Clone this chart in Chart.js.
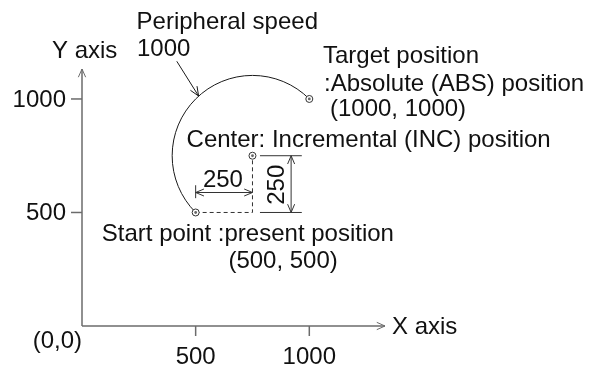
<!DOCTYPE html>
<html>
<head>
<meta charset="utf-8">
<script src="https://cdn.jsdelivr.net/npm/chart.js@4"></script>
<style>
  html, body { margin: 0; padding: 0; background: #fff; }
  canvas { display: block; }
</style>
</head>
<body>
<canvas id="chart" width="597" height="365"></canvas>
<script>
// Données du schéma (interpolation circulaire)
const axisTicks = [500, 1000];
const tickLabels = ['500', '1000'];
const startPoint = [500, 500];
const centerPoint = [750, 750];
const targetPoint = [1000, 1000];
const dashX = [500, 750, 750];
const dashY = [500, 500, 750];
const incrementX = 250;
const incrementY = 250;
const peripheralSpeed = 1000;

const FONT = '"Liberation Sans", Arial, sans-serif';
const markers = [startPoint, centerPoint, targetPoint].map(([x, y]) => ({ x, y }));

// Petite flèche ouverte
function arrowHead(ctx, x, y, angle, len = 9, spread = 0.42) {
  ctx.beginPath();
  ctx.moveTo(x - len * Math.cos(angle - spread), y - len * Math.sin(angle - spread));
  ctx.lineTo(x, y);
  ctx.lineTo(x - len * Math.cos(angle + spread), y - len * Math.sin(angle + spread));
  ctx.stroke();
}

function line(ctx, x1, y1, x2, y2) {
  ctx.beginPath();
  ctx.moveTo(x1, y1);
  ctx.lineTo(x2, y2);
  ctx.stroke();
}

const diagramPlugin = {
  id: 'diagram',
  beforeDatasetsDraw(chart) {
    const { ctx, chartArea, scales: { x: xs, y: ys } } = chart;
    const px = v => xs.getPixelForValue(v);
    const py = v => ys.getPixelForValue(v);
    const x0 = px(0), y0 = py(0);

    ctx.save();
    // Axes
    ctx.strokeStyle = '#6b6b6b';
    ctx.lineWidth = 1.5;
    line(ctx, x0, y0, chartArea.right, y0);
    line(ctx, x0, y0, x0, chartArea.top);
    ctx.lineWidth = 1;
    arrowHead(ctx, chartArea.right, y0, 0);
    arrowHead(ctx, x0, chartArea.top, -Math.PI / 2);

    // Graduations
    ctx.lineWidth = 1.5;
    axisTicks.forEach(v => {
      line(ctx, px(v), y0, px(v), y0 + 10);
      line(ctx, x0, py(v), x0 - 11, py(v));
    });

    // Arc de cercle (sens horaire) du point de départ vers la cible
    const cx = px(centerPoint[0]), cy = py(centerPoint[1]);
    const sx = px(startPoint[0]), sy = py(startPoint[1]);
    const tx = px(targetPoint[0]), ty = py(targetPoint[1]);
    const r = Math.hypot(sx - cx, sy - cy);
    const a0 = Math.atan2(sy - cy, sx - cx);
    const a1 = Math.atan2(ty - cy, tx - cx);
    ctx.strokeStyle = '#1a1a1a';
    ctx.lineWidth = 1;
    ctx.beginPath();
    ctx.arc(cx, cy, r, a0, a1, false);
    ctx.stroke();

    // Flèche vers l'arc (vitesse périphérique)
    const fx1 = px(417), fy1 = py(1166);
    const fx2 = px(513), fy2 = py(1013);
    line(ctx, fx1, fy1, fx2, fy2);
    arrowHead(ctx, fx2, fy2, Math.atan2(fy2 - fy1, fx2 - fx1), 10, 0.4);

    // Cotes
    ctx.strokeStyle = '#333';
    const hy = py(588);
    line(ctx, sx, hy, cx, hy);
    arrowHead(ctx, sx, hy, Math.PI, 9, 0.4);
    arrowHead(ctx, cx, hy, 0, 9, 0.4);
    line(ctx, sx, py(620), sx, py(563));

    const vx = px(920);
    line(ctx, px(783), cy, px(967), cy);
    line(ctx, px(783), sy, px(967), sy);
    line(ctx, vx, cy, vx, sy);
    arrowHead(ctx, vx, cy, -Math.PI / 2, 9, 0.4);
    arrowHead(ctx, vx, sy, Math.PI / 2, 9, 0.4);
    ctx.restore();
  },
  afterDatasetsDraw(chart) {
    const { ctx, chartArea, scales: { x: xs, y: ys } } = chart;
    const px = v => xs.getPixelForValue(v);
    const py = v => ys.getPixelForValue(v);
    const x0 = px(0), y0 = py(0);

    ctx.save();
    ctx.fillStyle = '#111';
    ctx.font = '24px ' + FONT;

    // Étiquettes des axes
    ctx.textAlign = 'center';
    ctx.textBaseline = 'alphabetic';
    axisTicks.forEach((v, i) => ctx.fillText(tickLabels[i], px(v), y0 + 37.5));
    ctx.textAlign = 'right';
    ctx.textBaseline = 'middle';
    axisTicks.forEach((v, i) => ctx.fillText(tickLabels[i], x0 - 16, py(v) + 1));
    ctx.textBaseline = 'alphabetic';
    ctx.fillText('(0,0)', x0, y0 + 22);

    ctx.textAlign = 'left';
    ctx.textBaseline = 'middle';
    ctx.fillText('X axis', chartArea.right + 7, y0 + 1);
    ctx.textBaseline = 'alphabetic';
    ctx.fillText('Y axis', px(-132), py(1180));

    // Annotations
    ctx.fillText('Peripheral speed', px(240), py(1310));
    ctx.fillText(String(peripheralSpeed), px(242), py(1188));
    ctx.fillText('Target position', px(1060), py(1159));
    ctx.fillText(':Absolute (ABS) position', px(1065), py(1034));
    ctx.fillText(`(${targetPoint[0]}, ${targetPoint[1]})`, px(1091), py(924));
    ctx.fillText('Center: Incremental (INC) position', px(460), py(788));
    ctx.fillText('Start point :present position', px(87), py(375));
    ctx.fillText(`(${startPoint[0]}, ${startPoint[1]})`, px(644), py(254));

    // Valeurs des cotes
    ctx.textAlign = 'center';
    ctx.fillText(String(incrementX), px(620), py(614));
    ctx.save();
    ctx.translate(px(889), py(622));
    ctx.rotate(-Math.PI / 2);
    ctx.fillText(String(incrementY), 0, 0);
    ctx.restore();

    ctx.restore();
  }
};

new Chart(document.getElementById('chart'), {
  type: 'scatter',
  data: {
    datasets: [
      {
        type: 'line',
        data: dashX.map((x, i) => ({ x, y: dashY[i] })),
        borderColor: '#333',
        borderWidth: 1,
        borderDash: [4, 3],
        pointRadius: 0,
        fill: false,
        tension: 0,
        order: 3
      },
      {
        data: markers,
        pointRadius: 3.5,
        borderColor: '#333',
        borderWidth: 1,
        backgroundColor: '#fff',
        order: 2
      },
      {
        data: markers,
        pointRadius: 1.4,
        borderWidth: 0,
        backgroundColor: '#666',
        order: 1
      }
    ]
  },
  options: {
    responsive: false,
    devicePixelRatio: 1,
    animation: false,
    layout: { padding: { left: 82, right: 212, top: 69, bottom: 39 } },
    scales: {
      x: { type: 'linear', min: 0, max: 1333, display: false },
      y: { type: 'linear', min: 0, max: 1132, display: false }
    },
    plugins: {
      legend: { display: false },
      tooltip: { enabled: false }
    },
    events: []
  },
  plugins: [diagramPlugin]
});
</script>
</body>
</html>
